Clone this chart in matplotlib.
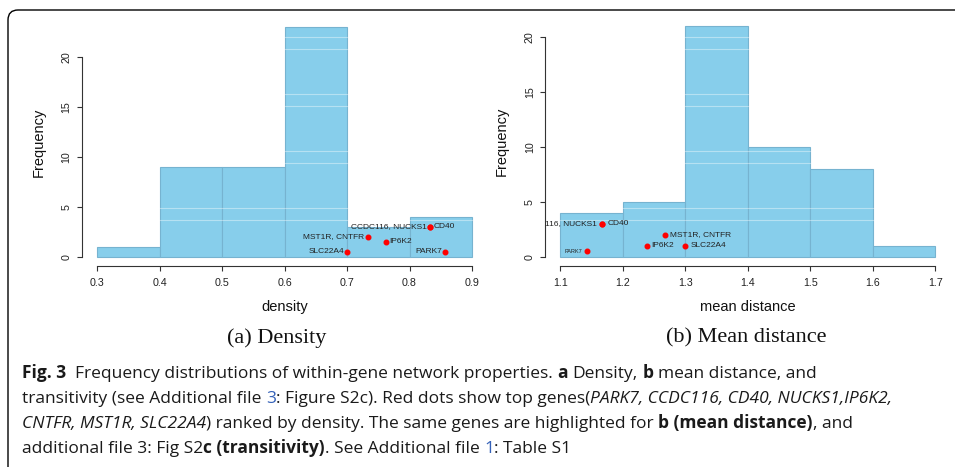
import numpy as np
import matplotlib
matplotlib.use("Agg")
import matplotlib.pyplot as plt
from matplotlib import font_manager
from matplotlib.path import Path
from matplotlib.patches import PathPatch
from matplotlib.transforms import blended_transform_factory

# histogram bins and counts
dens_edges = [0.3, 0.4, 0.5, 0.6, 0.7, 0.8, 0.9]
dens_counts = [1, 9, 9, 23, 3, 4]
dist_edges = [1.1, 1.2, 1.3, 1.4, 1.5, 1.6, 1.7]
dist_counts = [4, 5, 21, 10, 8, 1]

# highlighted genes (red dots)
genes = ["PARK7", "CCDC116, NUCKS1", "CD40", "IP6K2", "MST1R, CNTFR", "SLC22A4"]
dens_x = [0.857, 0.833, 0.833, 0.762, 0.733, 0.700]
dens_y = [0.5, 3, 3, 1.5, 2, 0.5]
dist_x = [1.143, 1.167, 1.167, 1.238, 1.267, 1.300]
dist_y = [0.5, 3, 3, 1, 2, 1]

y_ticks = [0, 5, 10, 15, 20]

# label placement (style, not data)
dens_side = ["left", "left", "right", "right", "left", "left"]
dist_side = ["left", "left", "right", "right", "right", "right"]
dens_fs = [6, 6, 6, 6, 6, 6]
dist_fs = [4, 6, 6, 6, 6, 6]

W, H = 955, 467
plt.rcParams["font.family"] = ["Liberation Sans", "DejaVu Sans"]

fig = plt.figure(figsize=(W / 100, H / 100), dpi=100)
renderer = fig.canvas.get_renderer()


def draw_hist(ax, edges, counts, xlabel, gx, gy, sides, sizes, offset):
    edges = np.array(edges)
    counts = np.array(counts)
    ax.bar(edges[:-1], counts, width=np.diff(edges), align="edge",
           color="#87CEEB", edgecolor="#76B3D0", linewidth=0.8, zorder=1)

    span = edges[-1] - edges[0]
    top = counts.max()
    ax.set_xlim(edges[0] - 0.04 * span, edges[-1] + 0.04 * span)
    ax.set_ylim(-0.04 * top, 1.04 * top)

    # faint light rows across the bars, as in the scanned figure
    tr = blended_transform_factory(ax.transData, fig.transFigure)
    for r in [37, 49, 94, 106, 151, 163, 208, 220]:
        ax.plot([edges[0], edges[-1]], [1 - r / H] * 2, color="white",
                alpha=0.4, lw=0.8, transform=tr, zorder=2)

    ax.plot(gx, gy, "o", color="#FF0000", markersize=3.3, zorder=4,
            clip_on=False)
    for name, x, y, side, fs in zip(genes, gx, gy, sides, sizes):
        dx = -offset if side == "left" else offset
        ax.annotate(name, (x, y), xytext=(dx, 0), textcoords="offset points",
                    ha="right" if side == "left" else "left", va="center",
                    fontsize=fs, color="#222222", clip_on=True, zorder=5)

    for s in ["top", "right"]:
        ax.spines[s].set_visible(False)
    ax.spines["left"].set_bounds(y_ticks[0], y_ticks[-1])
    ax.spines["bottom"].set_bounds(edges[0], edges[-1])
    for s in ["left", "bottom"]:
        ax.spines[s].set_color("#333333")
        ax.spines[s].set_linewidth(0.8)

    ax.set_xticks(edges)
    ax.set_xticklabels(["%.1f" % e for e in edges])
    ax.set_yticks(y_ticks)
    ax.tick_params(axis="both", direction="out", length=3.6, width=0.8,
                   color="#333333", labelsize=7.7, labelcolor="#222222")
    ax.tick_params(axis="x", pad=5.2)
    ax.tick_params(axis="y", pad=4.0, labelrotation=90)
    for lab in ax.get_yticklabels():
        lab.set_va("center")

    ax.set_xlabel(xlabel, fontsize=10.5, color="#111111")
    ax.set_ylabel("Frequency", fontsize=10.5, color="#111111")
    ax.xaxis.label.set_va("center")
    ax.yaxis.label.set_va("center")
    ax.xaxis.set_label_coords(0.5, -0.165)
    ax.yaxis.set_label_coords(-0.107, 0.5)


ax1 = fig.add_axes([82 / W, 1 - 266 / H, 405 / W, 248 / H])
draw_hist(ax1, dens_edges, dens_counts, "density", dens_x, dens_y,
          dens_side, dens_fs, 2.2)
ax2 = fig.add_axes([545.3 / W, 1 - 266 / H, 405 / W, 249 / H])
draw_hist(ax2, dist_edges, dist_counts, "mean distance", dist_x, dist_y,
          dist_side, dist_fs, 3.6)

# sub captions
fig.text(277 / W, 1 - 338 / H, "(a) Density", family="Liberation Serif",
         fontsize=16, ha="center", va="center", color="#111111")
fig.text(746 / W, 1 - 338 / H, "(b) Mean distance", family="Liberation Serif",
         fontsize=16, ha="center", va="center", color="#111111")

# frame with rounded top-left corner
x0, y0, r = 8 / W, 1 - 10 / H, 10
verts = [(x0, 0), (x0, 1 - (10 + r) / H), (x0, y0), ((8 + r) / W, y0), (1, y0)]
codes = [Path.MOVETO, Path.LINETO, Path.CURVE3, Path.CURVE3, Path.LINETO]
fig.add_artist(PathPatch(Path(verts, codes), fill=False, lw=1.0,
                         edgecolor="black", transform=fig.transFigure))

# caption
cap_font = "Open Sans"
for cand in ["Liberation Sans Narrow", "Open Sans", "DejaVu Sans"]:
    try:
        font_manager.findfont(font_manager.FontProperties(family=cand),
                              fallback_to_default=False)
        cap_font = cand
        break
    except ValueError:
        continue

B = {"fontweight": "bold"}
I = {"fontstyle": "italic"}
L = {"color": "#3461B8"}
N = {}
caption = [
    [("Fig. 3", B), ("  Frequency distributions of within-gene network properties. ", N),
     ("a", B), (" Density, ", N), ("b", B), (" mean distance, and", N)],
    [("transitivity (see Additional file ", N), ("3", L),
     (": Figure S2c). Red dots show top genes(", N),
     ("PARK7, CCDC116, CD40, NUCKS1,IP6K2,", I)],
    [("CNTFR, MST1R, SLC22A4", I),
     (") ranked by density. The same genes are highlighted for ", N),
     ("b (mean distance)", B), (", and", N)],
    [("additional file 3: Fig S2", N), ("c (transitivity)", B),
     (". See Additional file ", N), ("1", L), (": Table S1", N)],
]


def space_w(size, style):
    kw = dict(fontsize=size, family=cap_font)
    kw.update({k: v for k, v in style.items() if k != "color"})
    a = fig.text(0, 0, "n n", **kw)
    b = fig.text(0, 0, "nn", **kw)
    w = a.get_window_extent(renderer).width - b.get_window_extent(renderer).width
    a.remove()
    b.remove()
    return w


def put_line(runs, x, baseline, size, keep=True):
    start = x
    for s, style in runs:
        lead = len(s) - len(s.lstrip(" "))
        trail = len(s) - len(s.rstrip(" "))
        sp = space_w(size, style)
        x += lead * sp
        core = s.strip(" ")
        if core:
            kw = {"color": "#1a1a1a"}
            kw.update(style)
            t = fig.text(x / W, 1 - baseline / H, core, fontsize=size,
                         family=cap_font, ha="left", va="baseline", **kw)
            x += t.get_window_extent(renderer).width
            if not keep:
                t.remove()
        x += trail * sp
    return x - start


# fit the longest line to its width in the original
w10 = put_line(caption[1], 0, 0, 10, keep=False)
cap_size = min(12.5, 10 * 908 / w10)
for i, runs in enumerate(caption):
    put_line(runs, 22, 378 + 25 * i, cap_size)

fig.savefig("out.png", dpi=100)
